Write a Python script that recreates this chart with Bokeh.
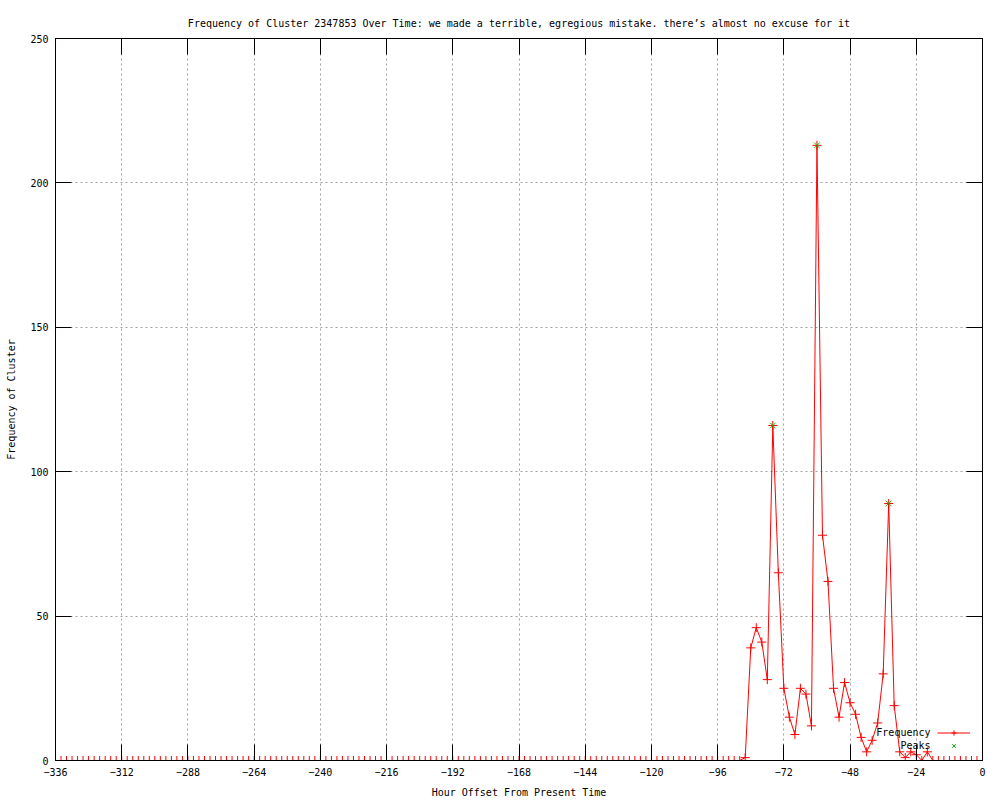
from bokeh.plotting import figure
from bokeh.models import Range1d, LinearAxis, FixedTicker, Legend, LegendItem, Label
from bokeh.embed import file_html
from bokeh.resources import INLINE

TITLE = "Frequency of Cluster 2347853 Over Time: we made a terrible, egregious mistake. there\u2019s almost no excuse for it"
X_LABEL = "Hour Offset From Present Time"
Y_LABEL = "Frequency of Cluster"

# hours relative to present, one sample every 2 hours
hours = list(range(-336, 1, 2))

# frequency per sample
frequency = [
    0, 0, 0, 0, 0, 0, 0, 0, 0, 0, 0, 0, 0, 0, 0, 0, 0, 0, 0, 0, 0, 0, 0, 0, 0,   # -336 .. -288
    0, 0, 0, 0, 0, 0, 0, 0, 0, 0, 0, 0, 0, 0, 0, 0, 0, 0, 0, 0, 0, 0, 0, 0, 0,   # -286 .. -238
    0, 0, 0, 0, 0, 0, 0, 0, 0, 0, 0, 0, 0, 0, 0, 0, 0, 0, 0, 0, 0, 0, 0, 0, 0,   # -236 .. -188
    0, 0, 0, 0, 0, 0, 0, 0, 0, 0, 0, 0, 0, 0, 0, 0, 0, 0, 0, 0, 0, 0, 0, 0, 0,   # -186 .. -138
    0, 0, 0, 0, 0, 0, 0, 0, 0, 0, 0, 0, 0, 0, 0, 0, 0, 0, 0, 0, 0, 0, 0, 0, 0,   # -136 .. -88
    1, 39, 46, 41, 28, 116, 65, 25, 15, 9, 25, 23, 12,                            # -86 .. -62
    213, 78, 62, 25, 15, 27, 20, 16, 8, 3, 7, 13, 30,                              # -60 .. -36
    89, 19, 3, 1, 3, 2, 0, 3, 0,                                                   # -34 .. -18
    0, 0, 0, 0, 0, 0, 0, 0, 0,                                                     # -16 .. 0
]

peak_hours = [-76, -60, -34]
peak_values = [116, 213, 89]

series_names = ["Frequency", "Peaks"]

x_ticks = [-336, -312, -288, -264, -240, -216, -192, -168, -144, -120, -96, -72, -48, -24, 0]
y_ticks = [0, 50, 100, 150, 200, 250]

FONT = "DejaVu Sans Mono"
FS = "10px"

p = figure(width=1000, height=800,
           x_range=Range1d(-336, 0), y_range=Range1d(0, 250),
           output_backend="svg", toolbar_location=None,
           min_border_left=55, min_border_right=18,
           min_border_top=38, min_border_bottom=39,
           x_axis_label=X_LABEL, y_axis_label=Y_LABEL)

p.title.text = TITLE
p.title.align = "center"
p.title.text_font = FONT
p.title.text_font_size = FS
p.title.text_font_style = "normal"
p.title.text_color = "black"
p.title.standoff = 20

p.outline_line_color = "black"
p.background_fill_color = "white"
p.border_fill_color = "white"


def style_axis(ax, ticks, labels=True):
    ax.ticker = FixedTicker(ticks=ticks)
    ax.major_tick_in = 16
    ax.major_tick_out = 0
    ax.minor_tick_line_color = None
    ax.axis_line_color = "black"
    ax.major_tick_line_color = "black"
    ax.major_label_text_font = FONT
    if labels:
        ax.major_label_text_color = "black"
        ax.major_label_text_font_size = FS
        ax.axis_label_text_font = FONT
        ax.axis_label_text_font_size = FS
        ax.axis_label_text_font_style = "normal"
        ax.axis_label_text_color = "black"
    else:
        # mirrored axis: ticks only, labels not drawn
        ax.major_label_text_color = None
        ax.major_label_text_font_size = "1px"
        ax.major_label_standoff = 0


style_axis(p.xaxis[0], x_ticks)
p.xaxis[0].major_label_standoff = 7
p.xaxis[0].axis_label_standoff = 8
style_axis(p.yaxis[0], y_ticks)
p.yaxis[0].major_label_standoff = 7
p.yaxis[0].axis_label_standoff = 10

top_axis = LinearAxis()
style_axis(top_axis, x_ticks, labels=False)
p.add_layout(top_axis, "above")
right_axis = LinearAxis()
style_axis(right_axis, y_ticks, labels=False)
p.add_layout(right_axis, "right")

p.xgrid.ticker = FixedTicker(ticks=x_ticks)
p.ygrid.ticker = FixedTicker(ticks=y_ticks)
for g in (p.xgrid, p.ygrid):
    g.grid_line_color = "#a0a0a0"
    g.grid_line_dash = "2 3"
    g.grid_line_width = 1

line_r = p.line(hours, frequency, line_color="#ff0000", line_width=1)
cross_r = p.scatter(hours, frequency, marker="cross", size=9,
                    line_color="#ff0000", line_width=1)
peak_r = p.scatter(peak_hours, peak_values, marker="x", size=8,
                   line_color="#00c000", line_width=1)

# gnuplot-style key: samples drawn by the legend, texts placed to their left
legend = Legend(items=[LegendItem(label=" ", renderers=[line_r, cross_r]),
                       LegendItem(label=" ", renderers=[peak_r])],
                location=(882, 8.5), glyph_width=33, glyph_height=13,
                label_height=13, label_width=1, label_standoff=0,
                label_text_font=FONT, label_text_font_size=FS,
                label_text_color=None,
                spacing=0, padding=0, margin=0,
                border_line_color=None, background_fill_alpha=0)
p.add_layout(legend)

for name, dy in zip(series_names, (28, 15)):
    p.add_layout(Label(x=0, y=0, x_offset=-52, y_offset=dy, text=name,
                       text_align="right", text_baseline="middle",
                       text_font=FONT, text_font_size=FS, text_color="black"))

open("out.html", "w").write(file_html(p, INLINE))
